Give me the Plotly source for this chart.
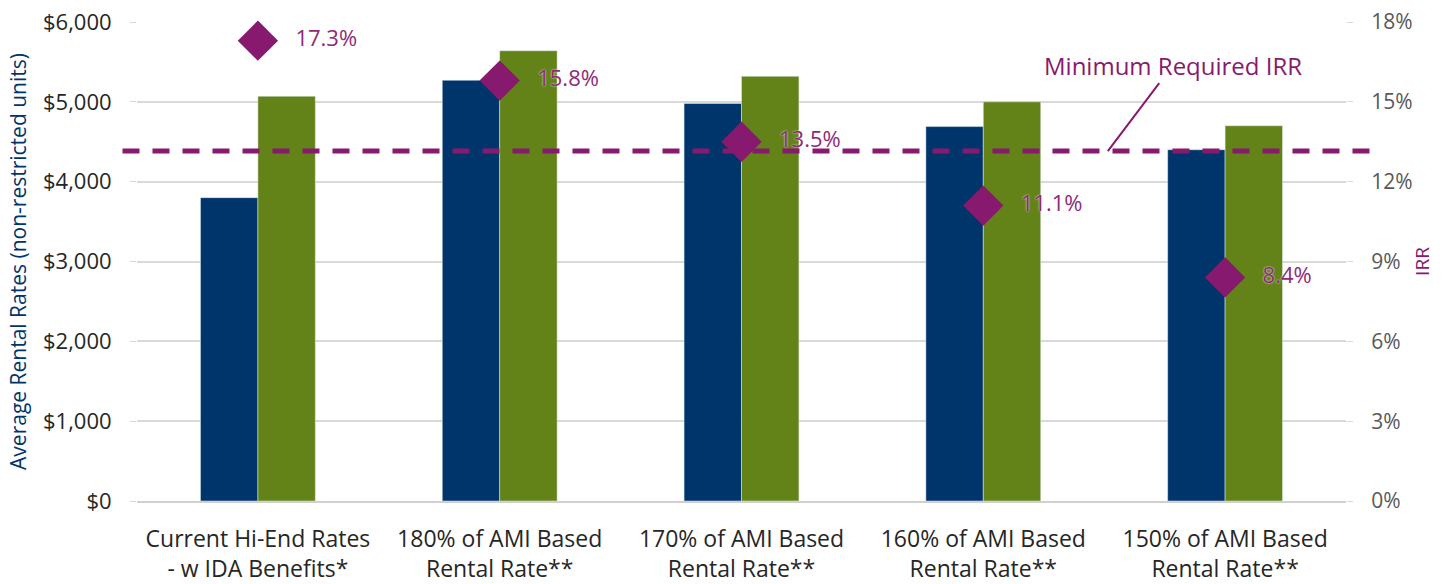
import plotly.graph_objects as go

categories = ["Current Hi-End Rates<br>- w IDA Benefits*", "180% of AMI Based<br>Rental Rate**",
              "170% of AMI Based<br>Rental Rate**", "160% of AMI Based<br>Rental Rate**",
              "150% of AMI Based<br>Rental Rate**"]
rent_a = [3800, 5270, 4980, 4690, 4400]
rent_b = [5070, 5640, 5320, 5000, 4700]
irr = [17.3, 15.8, 13.5, 11.1, 8.4]
min_irr = 13.15
left_ticks = [0, 1000, 2000, 3000, 4000, 5000, 6000]
right_ticks = [0, 3, 6, 9, 12, 15, 18]

BLUE = "#00356B"
GREEN = "#638319"
PURPLE = "#871A6E"
FONT = "Open Sans"

fig = go.Figure()
fig.add_trace(go.Bar(x=categories, y=rent_a, marker_color=BLUE, name="A", showlegend=False))
fig.add_trace(go.Bar(x=categories, y=rent_b, marker_color=GREEN, name="B", showlegend=False))
fig.add_trace(go.Scatter(x=categories, y=irr, yaxis="y2", mode="markers+text",
                         marker=dict(symbol="diamond", size=31, color=PURPLE),
                         text=[f"   {v:.1f}%" for v in irr], textposition="middle right",
                         textfont=dict(family=FONT, size=22, color="#8E2A78",
                                       shadow="0px 0px 2px #ffffff"),
                         showlegend=False, cliponaxis=False))

fig.update_layout(
    width=1445, height=584,
    margin=dict(l=137, r=99, t=22, b=83),
    plot_bgcolor="white", paper_bgcolor="white",
    barmode="group", bargap=0.525, bargroupgap=0,
    font=dict(family=FONT, color="#404040"),
    xaxis=dict(showgrid=False, showline=True, linecolor="#D0D0D0", linewidth=1.5,
               tickfont=dict(size=23, color="#262626"), ticks="", ticklabelstandoff=17,
               automargin=False),
    yaxis=dict(range=[0, 6000], tickvals=left_ticks,
               ticktext=[f"${v:,}" for v in left_ticks],
               showgrid=True, gridcolor="#D9D9D9", gridwidth=1.5, zeroline=False,
               tickfont=dict(size=22, color="#262626"), ticks="outside", ticklen=6,
               tickcolor="#D9D9D9", ticklabelstandoff=14, automargin=False,
               title=dict(text="Average Rental Rates (non-restricted units)",
                          font=dict(size=21, color=BLUE), standoff=10)),
    yaxis2=dict(range=[0, 18], overlaying="y", side="right", tickvals=right_ticks,
                ticktext=[f"{v}%" for v in right_ticks], showgrid=False, zeroline=False,
                tickfont=dict(size=21, color="#595959"), ticks="outside", ticklen=6,
                tickcolor="#D9D9D9", ticklabelstandoff=14, automargin=False,
                title=dict(text="IRR", font=dict(size=19, color=PURPLE), standoff=4)),
)

# minimum required IRR reference line on the IRR axis
fig.add_shape(type="line", xref="paper", x0=-0.012, x1=1.02, yref="y2",
              y0=min_irr, y1=min_irr, line=dict(color=PURPLE, width=5, dash="17px,13px"))

fig.add_annotation(x=0.803, y=min_irr, xref="paper", yref="y2",
                   ax=65, ay=-86, axref="pixel", ayref="pixel",
                   text="Minimum Required IRR", showarrow=True, arrowhead=0,
                   arrowwidth=2, arrowcolor=PURPLE,
                   font=dict(family=FONT, size=24, color=PURPLE))

fig.write_html("out.html")
